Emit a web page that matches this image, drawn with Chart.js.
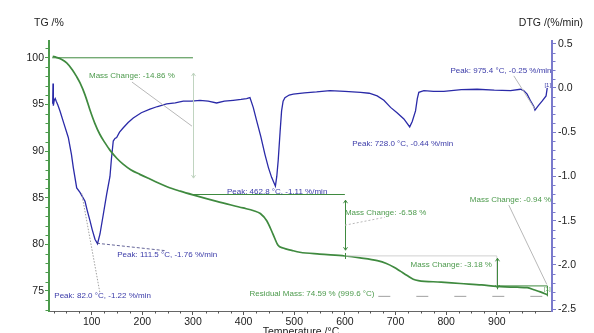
<!DOCTYPE html>
<html><head><meta charset="utf-8">
<script src="https://cdn.jsdelivr.net/npm/chart.js@4.4.0/dist/chart.umd.min.js"></script>
<style>html,body{margin:0;padding:0;background:#fff}#wrap{width:594px;height:333px;position:relative}</style>
</head><body><div id="wrap"><canvas id="c"></canvas></div>
<script>
// ---- data ----
const tgTemp = [23,30,40,50.6,62,70,77,87,96.6,106,116,126,136,150,162,177,195,215,250,275,300,347,399,420,433,446,458,468,478,495,511,550,600,630,664,682,697,710,723,735,745,790,828,870,900,940,960,975,986,999.6];
const tgMass = [100.15,100.05,99.85,99.45,98.7,98.0,97.3,96.0,94.4,93.0,91.8,90.9,90.1,89.2,88.6,88.0,87.5,87.0,86.15,85.7,85.3,84.6,83.9,83.6,83.3,82.5,81.1,79.9,79.6,79.35,79.15,78.95,78.75,78.55,78.25,77.95,77.55,77.1,76.65,76.25,76.1,75.95,75.8,75.65,75.5,75.4,75.35,75.1,74.9,74.6];
const dtgTemp = [23.0,23.6,24.3,26,28,30,33,37.4,45,53.8,60,63.7,70.4,76.9,80.8,86.8,91,96.6,101,106.5,111.5,116.4,122.9,129.6,136.1,139,142.6,146,149.3,155,162.4,172,182.1,198,215.1,230,248,265,280.8,297,313.8,330,346.7,362,379.5,395,405.9,412.5,419,425.7,434,442.1,449,455.3,462.8,465.5,468.3,472,475,478,481.6,490,498,520,544.1,570.4,600,631,648,663.8,677,690.2,703,716.5,728,733,739.5,743,746,756,775,795.4,830,861.2,895,927.1,946.8,953,959.9,966,973.1,975.4,982,989.4,997.3,999.6];
const dtgRate = [-0.18,0.05,-0.2,-0.14,-0.12,-0.15,-0.19,-0.26,-0.4,-0.56,-0.75,-0.9,-1.13,-1.18,-1.22,-1.28,-1.38,-1.5,-1.6,-1.71,-1.76,-1.65,-1.43,-1.2,-1.0,-0.8,-0.6,-0.57,-0.56,-0.5,-0.45,-0.39,-0.34,-0.28,-0.24,-0.21,-0.18,-0.17,-0.15,-0.15,-0.14,-0.15,-0.17,-0.15,-0.14,-0.13,-0.12,-0.11,-0.22,-0.37,-0.55,-0.75,-0.9,-1.01,-1.11,-1.0,-0.82,-0.5,-0.26,-0.15,-0.11,-0.08,-0.07,-0.055,-0.045,-0.03,-0.04,-0.05,-0.06,-0.09,-0.14,-0.22,-0.28,-0.35,-0.44,-0.38,-0.26,-0.12,-0.05,-0.03,-0.04,-0.04,-0.02,-0.015,-0.025,-0.03,-0.015,-0.03,-0.07,-0.14,-0.21,-0.25,-0.2,-0.15,-0.09,0.0];
const xTicks = [100,200,300,400,500,600,700,800,900];
const tgTicks = [75,80,85,90,95,100];
const dtgTicks = [-2.5,-2.0,-1.5,-1.0,-0.5,0.0,0.5];

const GREEN = '#3f8a3f', GTEXT = '#4c9a4c', BLUE = '#2a2aa8', BTEXT = '#3a3aa8', GRAY = '#b8b8b8';
const FONT = '"Liberation Sans", Arial, sans-serif';

// annotations in data coordinates (axis: tg or dtg)
const notes = [
  {k:'line', a:'tg', p:[[22,100],[300,100]], c:GREEN, w:1},
  {k:'text', a:'tg', x:94.7, y:98.04, t:'Mass Change: -14.86 %', c:GTEXT},
  {k:'line', a:'tg', p:[[179.5,97.4],[298,92.67]], c:GRAY, w:1},
  {k:'arrow', a:'tg', x:300, y1:98.36, y2:87.1, c:'#c0d4c0'},
  {k:'line', a:'tg', p:[[300,85.34],[600,85.34]], c:GREEN, w:1},
  {k:'text', a:'tg', x:367, y:85.62, t:'Peak: 462.8 °C, -1.11 %/min', c:BTEXT},
  {k:'arrow', a:'tg', x:600, y1:84.73, y2:79.37, c:GREEN},
  {k:'text', a:'tg', x:600, y:83.34, t:'Mass Change: -6.58 %', c:GTEXT},
  {k:'line', a:'tg', p:[[600,82.05],[679,82.9]], c:GRAY, w:1, d:[2,2]},
  {k:'line', a:'tg', p:[[600,78.76],[900,78.76],[900,75.54]], c:'#d0d0d0', w:1},
  {k:'arrow', a:'tg', x:900, y1:78.5, y2:75.3, c:GREEN},
  {k:'text', a:'tg', x:729.7, y:77.76, t:'Mass Change: -3.18 %', c:GTEXT},
  {k:'line', a:'tg', p:[[900,75.54],[1000,75.54]], c:GREEN, w:1},
  {k:'line', a:'tg', p:[[1000,75.54],[1000,74.42]], c:GREEN, w:1},
  {k:'text', a:'tg', x:993, y:75.12, t:'[1]', c:GTEXT, s:6},
  {k:'text', a:'tg', x:846.7, y:84.73, t:'Mass Change: -0.94 %', c:GTEXT},
  {k:'line', a:'tg', p:[[923.7,84.2],[998.7,75.7]], c:GRAY, w:1},
  {k:'line', a:'tg', p:[[666,74.42],[1000,74.42]], c:'#a0a0a0', w:1, d:[12,26]},
  {k:'text', a:'tg', x:411.5, y:74.65, t:'Residual Mass: 74.59 % (999.6 °C)', c:GTEXT},
  {k:'tick', a:'tg', x:600, y:78.75, c:GREEN},
  {k:'tick', a:'tg', x:900, y:75.5, c:GREEN},
  {k:'text', a:'dtg', x:808.6, y:0.19, t:'Peak: 975.4 °C, -0.25 %/min', c:BTEXT},
  {k:'line', a:'dtg', p:[[933.6,0.136],[975,-0.237]], c:GRAY, w:1},
  {k:'text', a:'dtg', x:994, y:0.03, t:'[1]', c:BTEXT, s:6},
  {k:'text', a:'dtg', x:614.4, y:-0.633, t:'Peak: 728.0 °C, -0.44 %/min', c:BTEXT},
  {k:'text', a:'dtg', x:150.5, y:-1.89, t:'Peak: 111.5 °C, -1.76 %/min', c:BTEXT},
  {k:'line', a:'dtg', p:[[110.5,-1.755],[248,-1.84]], c:'#404080', w:0.8, d:[3,2]},
  {k:'text', a:'dtg', x:26.2, y:-2.35, t:'Peak: 82.0 °C, -1.22 %/min', c:BTEXT},
  {k:'line', a:'dtg', p:[[80.2,-1.19],[116.4,-2.32]], c:'#a0a0a0', w:1, d:[1.5,1.5]}
];

const annot = {
  id:'annot',
  afterDatasetsDraw(chart){
    const ctx = chart.ctx, xs = chart.scales.x;
    const Y = a => chart.scales[a==='tg'?'y':'y1'];
    ctx.save();
    notes.forEach(n=>{
      const ys = Y(n.a);
      ctx.strokeStyle = n.c; ctx.fillStyle = n.c; ctx.setLineDash(n.d||[]);
      ctx.lineWidth = n.w||1;
      if(n.k==='line'){
        ctx.beginPath();
        n.p.forEach((q,i)=>{const X=xs.getPixelForValue(q[0]),YY=ys.getPixelForValue(q[1]); i?ctx.lineTo(X,YY):ctx.moveTo(X,YY);});
        ctx.stroke();
      } else if(n.k==='text'){
        ctx.font = (n.s||8)+'px '+FONT; ctx.textBaseline='middle'; ctx.textAlign='left';
        ctx.fillText(n.t, xs.getPixelForValue(n.x), ys.getPixelForValue(n.y));
      } else if(n.k==='arrow'){
        const X = Math.round(xs.getPixelForValue(n.x))+0.5, a1=ys.getPixelForValue(n.y1), a2=ys.getPixelForValue(n.y2);
        ctx.beginPath(); ctx.moveTo(X,a1); ctx.lineTo(X,a2);
        ctx.moveTo(X-2,a1+3); ctx.lineTo(X,a1); ctx.lineTo(X+2,a1+3);
        ctx.moveTo(X-2,a2-3); ctx.lineTo(X,a2); ctx.lineTo(X+2,a2-3);
        ctx.stroke();
      } else if(n.k==='tick'){
        const X = Math.round(xs.getPixelForValue(n.x))+0.5, YY=ys.getPixelForValue(n.y);
        ctx.beginPath(); ctx.moveTo(X,YY-3); ctx.lineTo(X,YY+3); ctx.stroke();
      }
    });
    ctx.setLineDash([]);
    // minor ticks
    const ca = chart.chartArea;
    ctx.lineWidth=1;
    ctx.strokeStyle='#555';
    for(let v=25; v<=1000; v+=25){ if(v%100===0) continue; const X=Math.round(xs.getPixelForValue(v))+0.5; ctx.beginPath(); ctx.moveTo(X,ca.bottom); ctx.lineTo(X,ca.bottom+2.5); ctx.stroke(); }
    ctx.strokeStyle='#4c9a4c';
    const yl = chart.scales.y;
    for(let v=73; v<=101; v+=1){ if(v%5===0) continue; const P=Math.round(yl.getPixelForValue(v))+0.5; ctx.beginPath(); ctx.moveTo(ca.left-1,P); ctx.lineTo(ca.left-3.5,P); ctx.stroke(); }
    ctx.strokeStyle='#7a7acc';
    const yr = chart.scales.y1;
    for(let i=-25; i<=5; i++){ if(i%5===0) continue; const P=Math.round(yr.getPixelForValue(i/10))+0.5; ctx.beginPath(); ctx.moveTo(ca.right+1,P); ctx.lineTo(ca.right+3.5,P); ctx.stroke(); }
    // titles
    ctx.fillStyle='#222'; ctx.font='10.5px '+FONT; ctx.textBaseline='alphabetic';
    ctx.textAlign='left'; ctx.fillText('TG /%', 34, 26);
    ctx.textAlign='right'; ctx.fillText('DTG /(%/min)', 583, 26);
    ctx.textAlign='center'; ctx.fillText('Temperature /°C', 301, 335);
    ctx.restore();
  }
};

const setTicks = arr => s => { s.ticks = arr.map(v=>({value:v})); };

new Chart(document.getElementById('c'), {
  type:'line',
  data:{datasets:[
    {label:'TG', data: tgTemp.map((t,i)=>({x:t,y:tgMass[i]})), borderColor:GREEN, borderWidth:1.7, pointRadius:0, yAxisID:'y', tension:0.3, cubicInterpolationMode:'monotone'},
    {label:'DTG', data: dtgTemp.map((t,i)=>({x:t,y:dtgRate[i]})), borderColor:BLUE, borderWidth:1.3, pointRadius:0, yAxisID:'y1', tension:0}
  ]},
  options:{
    responsive:true, maintainAspectRatio:false, animation:false, devicePixelRatio:1,
    layout:{padding:{top:41,left:0,right:0,bottom:0}},
    plugins:{legend:{display:false}, tooltip:{enabled:false}},
    scales:{
      x:{type:'linear', position:'bottom', min:15.7, max:1009,
        afterBuildTicks:setTicks(xTicks), afterFit:s=>{s.height=22;},
        grid:{drawOnChartArea:false, drawTicks:true, tickLength:4, color:'#555'},
        border:{color:'#666', width:1},
        ticks:{font:{family:FONT,size:10.5}, color:'#222', padding:1, maxRotation:0, autoSkip:false}},
      y:{type:'linear', position:'left', min:72.85, max:101.8,
        afterBuildTicks:setTicks(tgTicks), afterFit:s=>{s.width=49;},
        grid:{drawOnChartArea:false, drawTicks:true, tickLength:4, color:'#4c9a4c'},
        border:{color:'#4c9a4c', width:2},
        ticks:{font:{family:FONT,size:10.5}, color:'#222', padding:1, callback:v=>String(v)}},
      y1:{type:'linear', position:'right', min:-2.52, max:0.53,
        afterBuildTicks:setTicks(dtgTicks), afterFit:s=>{s.width=42;},
        grid:{drawOnChartArea:false, drawTicks:true, tickLength:4, color:'#7a7acc'},
        border:{color:'#7a7acc', width:2},
        ticks:{font:{family:FONT,size:10.5}, color:'#222', padding:2, callback:v=>v.toFixed(1)}}
    }
  },
  plugins:[annot]
});
</script>
</body></html>
